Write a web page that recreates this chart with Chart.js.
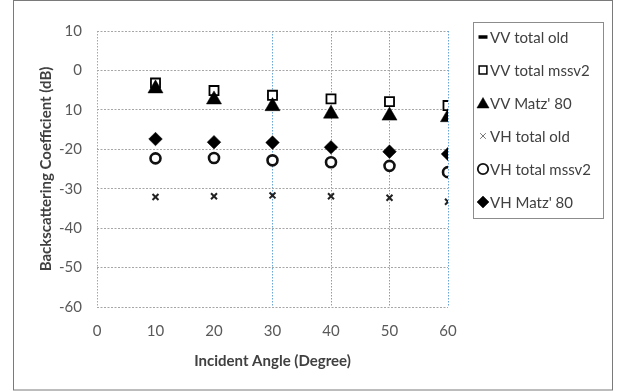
<!DOCTYPE html>
<html>
<head>
<meta charset="utf-8">
<script src="https://cdn.jsdelivr.net/npm/chart.js@4/dist/chart.umd.min.js"></script>
<style>
  html, body { margin: 0; padding: 0; background: #fff; }
  #wrap { width: 620px; height: 391px; position: relative; }
</style>
</head>
<body>
<div id="wrap"><canvas id="c" width="620" height="391"></canvas></div>
<script>
// ---- data ----
const angles = [10, 20, 30, 40, 50, 60];
const vvTotalOld   = [-3.2, -5.1, -6.3, -7.2, -7.9, -8.9];
const vvTotalMssv2 = [-3.2, -5.1, -6.3, -7.2, -7.9, -8.9];
const vvMatz80     = [-4.6, -7.4, -9.1, -11.0, -11.5, -11.9];
const vhTotalOld   = [-32.1, -31.9, -31.7, -31.9, -32.3, -33.3];
const vhTotalMssv2 = [-22.3, -22.2, -22.8, -23.3, -24.2, -25.8];
const vhMatz80     = [-17.4, -18.2, -18.3, -19.5, -20.6, -21.2];

const seriesNames = ["VV total old", "VV total mssv2", "VV Matz' 80", "VH total old", "VH total mssv2", "VH Matz' 80"];
const xTickValues = [0, 10, 20, 30, 40, 50, 60];
const yTickValues = [-60, -50, -40, -30, -20, -10, 0, 10];
const yTickLabels = ["-60", "-50", "-40", "-30", "-20", "10", "0", "10"];
const blueGridAt = [30, 40, 50, 60];

const FONT = "Lato, 'Open Sans', sans-serif";

function pts(ys) { return angles.map((a, i) => ({ x: a, y: ys[i] })); }

const styles = [
  { pointStyle: 'line', radius: 5, borderWidth: 3, bg: '#000', bc: '#000', order: 6 },
  { pointStyle: 'rect', radius: 6.4, borderWidth: 1.8, bg: '#fff', bc: '#000', order: 5 },
  { pointStyle: 'triangle', radius: 8.7, borderWidth: 0.5, bg: '#000', bc: '#000', order: 4 },
  { pointStyle: 'crossRot', radius: 4.2, borderWidth: 2, bg: '#000', bc: '#222', order: 3 },
  { pointStyle: 'circle', radius: 5, borderWidth: 2.6, bg: '#fff', bc: '#111', order: 2 },
  { pointStyle: 'rectRot', radius: 6.8, borderWidth: 0.5, bg: '#000', bc: '#000', order: 1 }
];
const seriesData = [vvTotalOld, vvTotalMssv2, vvMatz80, vhTotalOld, vhTotalMssv2, vhMatz80];

const datasets = seriesData.map((d, i) => ({
  label: seriesNames[i],
  data: pts(d),
  showLine: false,
  pointStyle: styles[i].pointStyle,
  pointRadius: styles[i].radius,
  pointHoverRadius: styles[i].radius,
  pointBorderWidth: styles[i].borderWidth,
  pointBackgroundColor: styles[i].bg,
  pointBorderColor: styles[i].bc,
  backgroundColor: styles[i].bg,
  borderColor: styles[i].bc,
  order: styles[i].order
}));

const frame = {
  id: 'frame',
  beforeDraw(chart) {
    const ctx = chart.ctx;
    ctx.save();
    ctx.fillStyle = '#fff';
    ctx.fillRect(0, 0, chart.width, chart.height);
    ctx.restore();
  },
  afterDraw(chart) {
    const ctx = chart.ctx;
    ctx.save();
    ctx.strokeStyle = '#7a7a7a';
    ctx.lineWidth = 1;
    ctx.strokeRect(13.5, 0.5, 599, 389.5);
    // legend box
    const lx = 473.5, ly = 22.5, lw = 130, lh = 196;
    ctx.strokeStyle = '#8c8c8c';
    ctx.strokeRect(lx, ly, lw, lh);
    const legendSize = [
      { r: 4.5, w: 3.5 }, { r: 5.5, w: 1.5 }, { r: 7, w: 0.5 },
      { r: 4, w: 1 }, { r: 5.2, w: 1.8 }, { r: 6, w: 0.5 }
    ];
    ctx.font = '15px ' + FONT;
    ctx.textBaseline = 'middle';
    ctx.textAlign = 'left';
    chart.data.datasets.forEach((ds, i) => {
      const y = 37 + i * 33;
      const x = 483;
      ctx.fillStyle = ds.pointBackgroundColor;
      ctx.strokeStyle = i === 3 ? '#777' : ds.pointBorderColor;
      ctx.lineWidth = legendSize[i].w;
      Chart.helpers.drawPoint(ctx, {
        pointStyle: ds.pointStyle, rotation: 0,
        radius: legendSize[i].r, borderWidth: legendSize[i].w
      }, x, i === 2 ? y + 1.5 : y);
      ctx.fillStyle = '#404040';
      ctx.fillText(ds.label, 490, y + 1);
    });
    ctx.restore();
  }
};

new Chart(document.getElementById('c'), {
  type: 'scatter',
  data: { datasets },
  options: {
    responsive: false,
    animation: false,
    devicePixelRatio: 1,
    layout: { padding: { top: 31, right: 172, bottom: 0, left: 0 } },
    plugins: { legend: { display: false }, tooltip: { enabled: false } },
    scales: {
      x: {
        type: 'linear', min: 0, max: 60,
        afterFit(s) { s.height = 84; },
        afterBuildTicks(s) { s.ticks = xTickValues.map(v => ({ value: v })); },
        ticks: { color: '#595959', font: { family: FONT, size: 15 }, padding: 15 },
        grid: {
          drawTicks: false,
          color(ctx) {
            const v = ctx.tick ? ctx.tick.value : null;
            if (v === 0) return '#a6a6a6';
            if (blueGridAt.includes(v)) return '#6aa6d8';
            return 'rgba(0,0,0,0)';
          },
          lineWidth: 1
        },
        border: { display: false, dash: [1.5, 1.5] },
        title: {
          display: true, text: 'Incident Angle (Degree)', color: '#404040',
          font: { family: FONT, size: 15, weight: 'bold' }, padding: { top: 0, bottom: 21 }
        }
      },
      y: {
        type: 'linear', min: -60, max: 10,
        afterFit(s) { s.width = 97; },
        afterBuildTicks(s) { s.ticks = yTickValues.map(v => ({ value: v })); },
        ticks: {
          color: '#595959', font: { family: FONT, size: 15 }, padding: 15,
          callback(v) { const i = yTickValues.indexOf(v); return i >= 0 ? yTickLabels[i] : ''; }
        },
        grid: { drawTicks: false, color: '#a6a6a6', lineWidth: 1 },
        border: { display: false, dash: [2, 1.5] },
        title: {
          display: true, text: 'Backscattering Coefficient (dB)', color: '#404040',
          font: { family: FONT, size: 15, weight: 'bold' }, padding: { top: 37, bottom: 0 }
        }
      }
    }
  },
  plugins: [frame]
});
</script>
</body>
</html>
